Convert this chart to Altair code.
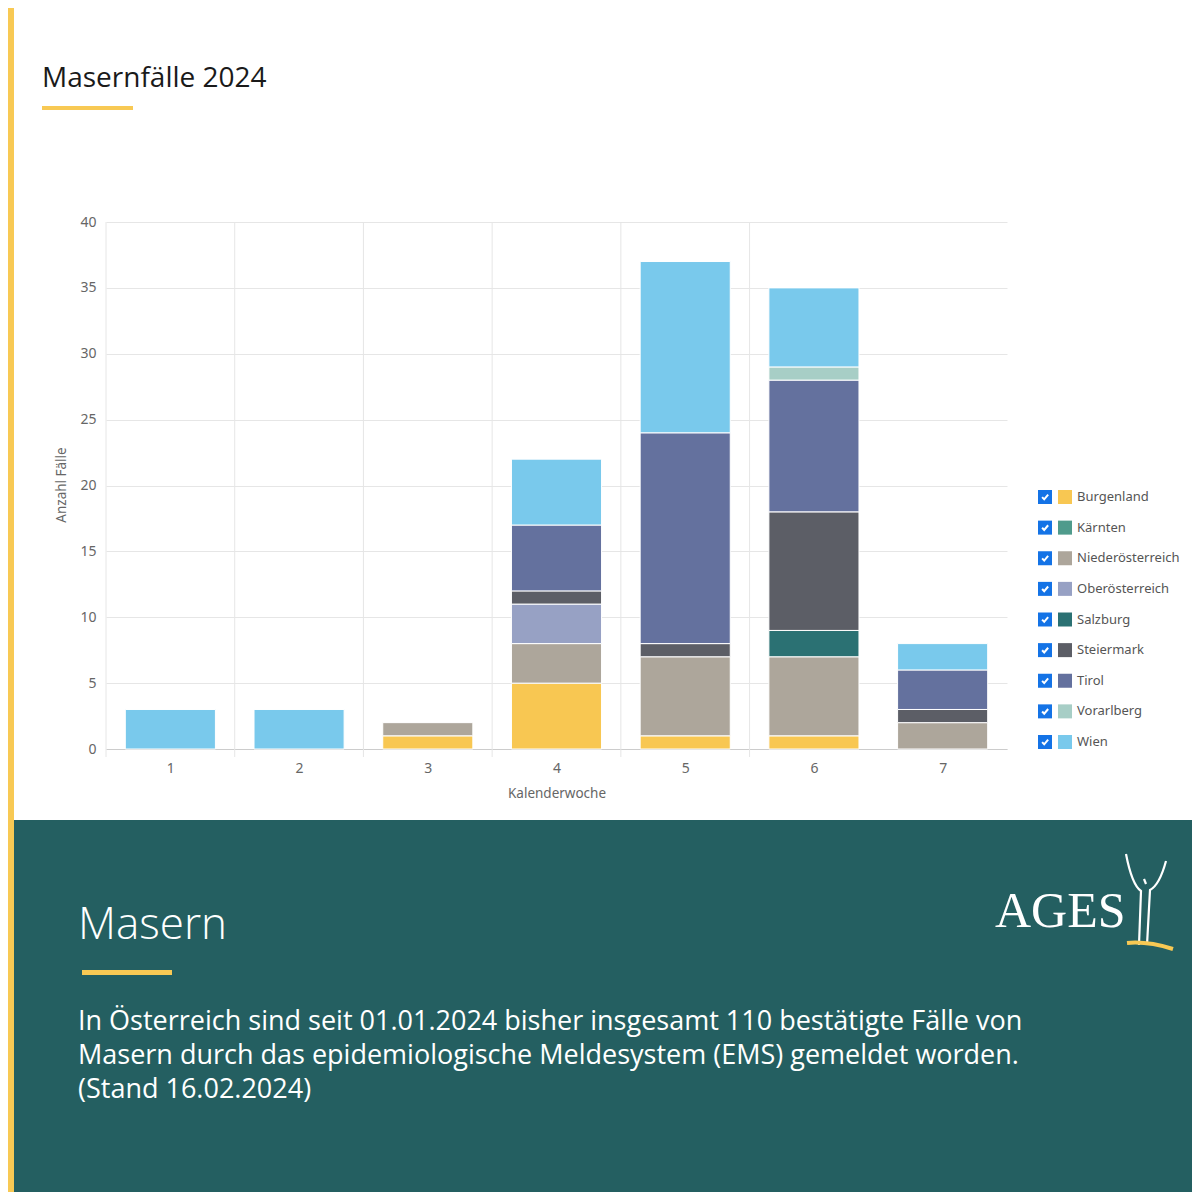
import altair as alt
import pandas as pd

# ---------------- data ----------------
weeks = [1, 2, 3, 4, 5, 6, 7]
regions = ["Burgenland", "Kärnten", "Niederösterreich", "Oberösterreich", "Salzburg",
           "Steiermark", "Tirol", "Vorarlberg", "Wien"]
burgenland = [0, 0, 1, 5, 1, 1, 0]
kaernten = [0, 0, 0, 0, 0, 0, 0]
niederoesterreich = [0, 0, 1, 3, 6, 6, 2]
oberoesterreich = [0, 0, 0, 3, 0, 0, 0]
salzburg = [0, 0, 0, 0, 0, 2, 0]
steiermark = [0, 0, 0, 1, 1, 9, 1]
tirol = [0, 0, 0, 5, 16, 10, 3]
vorarlberg = [0, 0, 0, 0, 0, 1, 0]
wien = [3, 3, 0, 5, 13, 6, 2]
colors = ["#F8C752", "#4F9B8C", "#ADA69B", "#97A1C4", "#2B7173",
          "#5C5E66", "#64719E", "#A7CEC6", "#79C9EC"]

title_text = "Masernfälle 2024"
x_title = "Kalenderwoche"
y_title = "Anzahl Fälle"
panel_title = "Masern"
body_lines = [
    "In Österreich sind seit 01.01.2024 bisher insgesamt 110 bestätigte Fälle von",
    "Masern durch das epidemiologische Meldesystem (EMS) gemeldet worden.",
    "(Stand 16.02.2024)",
]
logo_text = "AGES"

series = [burgenland, kaernten, niederoesterreich, oberoesterreich, salzburg,
          steiermark, tirol, vorarlberg, wien]

rows = []
for i, (reg, vals) in enumerate(zip(regions, series)):
    for w, v in zip(weeks, vals):
        rows.append({"week": w, "region": reg, "ord": i, "count": v})
df = pd.DataFrame(rows)
legend_df = pd.DataFrame({"region": regions, "idx": list(range(len(regions)))})
weeks_df = pd.DataFrame({"week": weeks})
one = pd.DataFrame({"a": [0]})

W, H = 901, 527
FONT = "Open Sans"
LFONT = "Noto Sans"
TEAL = "#245F61"
YELLOW = "#F8C954"

color_scale = alt.Scale(domain=regions, range=colors)
xscale = alt.Scale(domain=[0.5, 7.5], nice=False, zero=False)

# ---------------- decorations ----------------
left_bar = alt.Chart(one).mark_rect(color=YELLOW).encode(
    x=alt.value(-110), x2=alt.value(-92), y=alt.value(-240), y2=alt.value(990))
panel = alt.Chart(one).mark_rect(color=TEAL).encode(
    x=alt.value(-92), x2=alt.value(1100), y=alt.value(598), y2=alt.value(990))
title = alt.Chart(one).mark_text(align="left", baseline="alphabetic", font=FONT,
                                 fontSize=28, color="#1a1a1a").encode(
    x=alt.value(-64), y=alt.value(-135), text=alt.value(title_text))
title_line = alt.Chart(one).mark_rect(color=YELLOW).encode(
    x=alt.value(-64), x2=alt.value(27), y=alt.value(-116), y2=alt.value(-112))
ptitle = alt.Chart(one).mark_text(align="left", baseline="alphabetic", font=FONT,
                                  fontSize=44, fontWeight=300, color="white").encode(
    x=alt.value(-28), y=alt.value(717), text=alt.value(panel_title))
pline = alt.Chart(one).mark_rect(color=YELLOW).encode(
    x=alt.value(-24), x2=alt.value(66), y=alt.value(748), y2=alt.value(753))
body = alt.Chart(one).mark_text(align="left", baseline="alphabetic", font=FONT,
                                fontSize=27, lineHeight=34, color="white").encode(
    x=alt.value(-28), y=alt.value(808), text=alt.value(body_lines))
logo = alt.Chart(one).mark_text(align="left", baseline="alphabetic", font="Liberation Serif",
                                fontSize=50, color="white").encode(
    x=alt.value(889), y=alt.value(705), text=alt.value(logo_text))
figure = alt.Chart(one).mark_point(
    shape="M -0.42 -0.92 Q -0.3 -0.3 -0.12 -0.18 L -0.16 0.9 M 0.38 -0.78 Q 0.25 -0.3 0.06 -0.2 L 0.0 0.9 M -0.06 -0.42 L -0.02 -0.32",
    filled=False, stroke="white", strokeWidth=2.2, size=10000, opacity=1).encode(
    x=alt.value(1041), y=alt.value(678))
swoosh = alt.Chart(one).mark_point(
    shape="M -0.4 0.86 Q 0.0 0.82 0.52 0.98",
    filled=False, stroke=YELLOW, strokeWidth=4, size=10000, opacity=1).encode(
    x=alt.value(1041), y=alt.value(678))

# ---------------- chart ----------------
vgrid = alt.Chart(weeks_df).transform_filter("datum.week < 7").transform_calculate(
    b="datum.week - 0.5").mark_rule(color="#e6e6e6", strokeWidth=1).encode(
    x=alt.X("b:Q", scale=xscale), y=alt.value(0), y2=alt.value(535))

bars = alt.Chart(df).transform_filter("datum.count > 0").transform_stack(
    stack="count", groupby=["week"], as_=["y0", "y1"],
    sort=[alt.SortField("ord", order="ascending")]
).transform_calculate(
    xa="datum.week - 0.35", xb="datum.week + 0.35"
).mark_bar(stroke="white", strokeWidth=1).encode(
    x=alt.X("xa:Q", scale=xscale,
            axis=alt.Axis(values=weeks, title=None, grid=False, ticks=False, domain=True,
                          domainColor="#cccccc", labelPadding=12, labelFontSize=14,
                          labelColor="#666666", labelFont=LFONT, format="d")),
    x2="xb:Q",
    y=alt.Y("y0:Q", scale=alt.Scale(domain=[0, 40], nice=False),
            axis=alt.Axis(values=list(range(0, 41, 5)), title=None, grid=True,
                          gridColor="#e6e6e6", domain=False, ticks=False, labelPadding=10,
                          labelFontSize=14, labelColor="#666666", labelFont=LFONT)),
    y2="y1:Q",
    color=alt.Color("region:N", scale=color_scale, legend=None),
)

xt = alt.Chart(one).mark_text(font=LFONT, fontSize=13.5, color="#666666").encode(
    x=alt.value(451), y=alt.value(572), text=alt.value(x_title))
yt = alt.Chart(one).mark_text(font=LFONT, fontSize=13.5, color="#666666", angle=270).encode(
    x=alt.value(-44), y=alt.value(263), text=alt.value(y_title))

# ---------------- custom legend ----------------
ly = alt.Y("idx:Q", scale=alt.Scale(domain=[0, 8], range=[275, 520], nice=False, zero=False),
           axis=None)
lbox = alt.Chart(legend_df).mark_point(shape="square", filled=True, size=196,
                                       color="#1473E6", opacity=1).encode(
    x=alt.value(939), y=ly)
lcheck = alt.Chart(legend_df).mark_point(shape="M -0.55 0.02 L -0.15 0.45 L 0.6 -0.45",
                                         filled=False, stroke="white", strokeWidth=2,
                                         size=110, opacity=1).encode(
    x=alt.value(939), y=ly)
lsym = alt.Chart(legend_df).mark_point(shape="square", filled=True, size=196,
                                       opacity=1).encode(
    x=alt.value(959), y=ly, color=alt.Color("region:N", scale=color_scale, legend=None))
ltext = alt.Chart(legend_df).mark_text(align="left", font=LFONT, fontSize=13,
                                       color="#555555").encode(
    x=alt.value(971), y=ly, text="region:N")

chart = alt.layer(
    left_bar, panel, title, title_line, ptitle, pline, body, logo, figure, swoosh,
    vgrid, bars, xt, yt, lbox, lcheck, lsym, ltext
).resolve_scale(y="independent").properties(
    width=W, height=H,
    autosize=alt.AutoSizeParams(type="none"),
    padding={"left": 98, "top": 214, "right": 185, "bottom": 443},
    background="white",
).configure_view(stroke=None)

chart.save("out.html", embed_options={"renderer": "svg", "actions": False})
